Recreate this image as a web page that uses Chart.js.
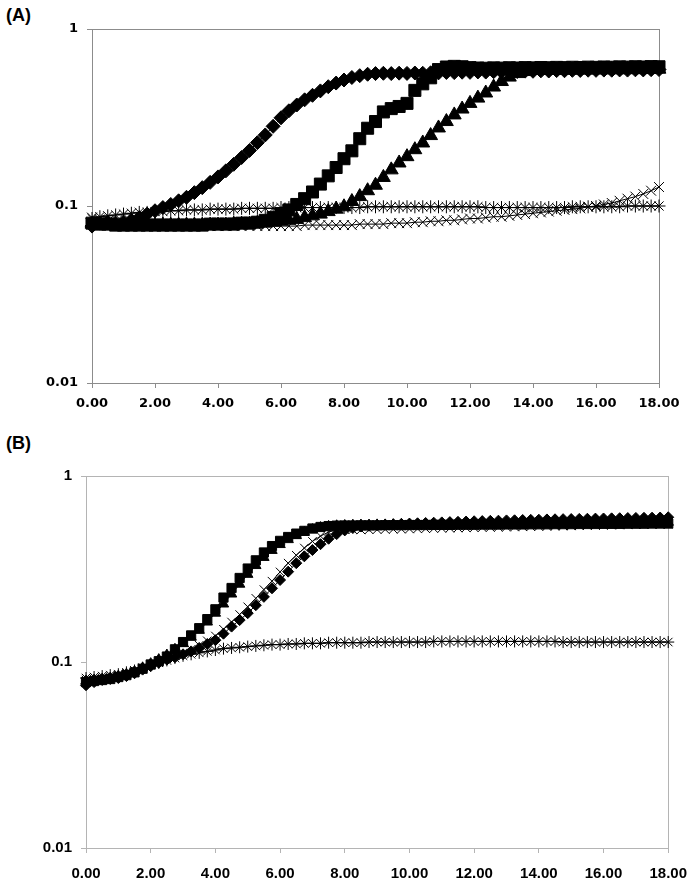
<!DOCTYPE html>
<html lang="en">
<head>
<meta charset="utf-8"/>
<title>Growth curves (A) and (B)</title>
<script src="https://cdn.jsdelivr.net/npm/chart.js@4.4.3/dist/chart.umd.min.js"></script>
<style>
  body { margin: 0; background: #fff; width: 699px; height: 885px; position: relative; overflow: hidden; }
  .panel-label { position: absolute; left: 6px; font: bold 18px "Liberation Sans", Arial, sans-serif; line-height: 20px; color: #000; }
  .wrap { position: absolute; left: 0; width: 699px; }
</style>
</head>
<body>
<div class="panel-label" style="top: 5px;">(A)</div>
<div class="wrap" style="top: 0;"><canvas id="chartA" width="699" height="420"></canvas></div>
<div class="panel-label" style="top: 433px;">(B)</div>
<div class="wrap" style="top: 440px;"><canvas id="chartB" width="699" height="445"></canvas></div>
<script>
  // sampling times (h), every 15 min
  const times = [
    0.00, 0.25, 0.50, 0.75, 1.00, 1.25, 1.50, 1.75, 2.00, 2.25, 2.50, 2.75,
    3.00, 3.25, 3.50, 3.75, 4.00, 4.25, 4.50, 4.75, 5.00, 5.25, 5.50, 5.75,
    6.00, 6.25, 6.50, 6.75, 7.00, 7.25, 7.50, 7.75, 8.00, 8.25, 8.50, 8.75,
    9.00, 9.25, 9.50, 9.75, 10.00, 10.25, 10.50, 10.75, 11.00, 11.25, 11.50, 11.75,
    12.00, 12.25, 12.50, 12.75, 13.00, 13.25, 13.50, 13.75, 14.00, 14.25, 14.50, 14.75,
    15.00, 15.25, 15.50, 15.75, 16.00, 16.25, 16.50, 16.75, 17.00, 17.25, 17.50, 17.75, 18.00
  ];
  const yTicks = [0.01, 0.1, 1];

  // panel A
  const aDiamond = [
    0.077, 0.080, 0.081, 0.080, 0.081, 0.083, 0.086, 0.090, 0.094,
    0.098, 0.102, 0.107, 0.112, 0.119, 0.127, 0.136, 0.146,
    0.158, 0.172, 0.188, 0.206, 0.228, 0.252, 0.282, 0.315,
    0.345, 0.372, 0.398, 0.422, 0.447, 0.472, 0.495, 0.515,
    0.532, 0.545, 0.555, 0.560, 0.562, 0.560, 0.563, 0.561,
    0.564, 0.562, 0.566, 0.565, 0.568, 0.567, 0.570, 0.569,
    0.572, 0.571, 0.574, 0.573, 0.576, 0.575, 0.578, 0.577,
    0.580, 0.579, 0.582, 0.581, 0.584, 0.583, 0.585, 0.584,
    0.586, 0.585, 0.587, 0.586, 0.588, 0.587, 0.589, 0.590
  ];
  const aSquare = [
    0.080, 0.079, 0.079, 0.078, 0.078, 0.078, 0.078, 0.078, 0.078,
    0.078, 0.078, 0.078, 0.078, 0.078, 0.078, 0.079, 0.079,
    0.079, 0.079, 0.080, 0.080, 0.081, 0.083, 0.086, 0.090,
    0.095, 0.102, 0.110, 0.120, 0.133, 0.148, 0.165, 0.185,
    0.205, 0.240, 0.275, 0.300, 0.340, 0.355, 0.365, 0.380,
    0.450, 0.490, 0.530, 0.590, 0.610, 0.615, 0.612, 0.605,
    0.602, 0.600, 0.603, 0.601, 0.604, 0.602, 0.605, 0.603,
    0.606, 0.604, 0.607, 0.605, 0.608, 0.606, 0.609, 0.607,
    0.610, 0.608, 0.611, 0.609, 0.612, 0.610, 0.613, 0.612
  ];
  const aTriangle = [
    0.079, 0.078, 0.078, 0.078, 0.078, 0.078, 0.078, 0.078, 0.078,
    0.078, 0.078, 0.078, 0.078, 0.078, 0.078, 0.078, 0.078,
    0.078, 0.079, 0.079, 0.079, 0.080, 0.080, 0.081, 0.082,
    0.083, 0.084, 0.086, 0.088, 0.090, 0.093, 0.096, 0.099,
    0.106, 0.113, 0.122, 0.131, 0.145, 0.160, 0.175, 0.190,
    0.208, 0.227, 0.250, 0.276, 0.300, 0.327, 0.353, 0.380,
    0.407, 0.435, 0.470, 0.505, 0.535, 0.560, 0.575, 0.583,
    0.583, 0.586, 0.584, 0.587, 0.585, 0.588, 0.586, 0.589,
    0.587, 0.590, 0.588, 0.591, 0.589, 0.592, 0.590, 0.593
  ];
  const aCross = [
    0.086, 0.084, 0.082, 0.080, 0.079, 0.078, 0.078, 0.077, 0.077,
    0.077, 0.077, 0.077, 0.077, 0.077, 0.077, 0.077, 0.077,
    0.077, 0.077, 0.077, 0.077, 0.077, 0.077, 0.077, 0.077,
    0.077, 0.077, 0.078, 0.078, 0.078, 0.078, 0.078, 0.078,
    0.078, 0.079, 0.079, 0.079, 0.079, 0.080, 0.080, 0.080,
    0.081, 0.081, 0.082, 0.082, 0.083, 0.083, 0.084, 0.085,
    0.085, 0.086, 0.087, 0.087, 0.088, 0.089, 0.090, 0.091,
    0.092, 0.093, 0.094, 0.095, 0.096, 0.097, 0.099, 0.100,
    0.102, 0.104, 0.107, 0.110, 0.113, 0.117, 0.122, 0.128
  ];
  const aStar = [
    0.085, 0.087, 0.088, 0.089, 0.090, 0.091, 0.092, 0.092, 0.093,
    0.093, 0.094, 0.094, 0.095, 0.095, 0.095, 0.096, 0.096,
    0.096, 0.096, 0.097, 0.097, 0.097, 0.097, 0.097, 0.098,
    0.098, 0.098, 0.098, 0.098, 0.098, 0.098, 0.098, 0.098,
    0.098, 0.098, 0.099, 0.099, 0.099, 0.099, 0.099, 0.099,
    0.099, 0.099, 0.099, 0.099, 0.099, 0.099, 0.099, 0.099,
    0.099, 0.098, 0.098, 0.098, 0.098, 0.098, 0.098, 0.098,
    0.098, 0.098, 0.098, 0.098, 0.099, 0.099, 0.099, 0.099,
    0.099, 0.099, 0.099, 0.100, 0.100, 0.100, 0.100, 0.100
  ];

  // panel B
  const bDiamond = [
    0.075, 0.078, 0.080, 0.081, 0.082, 0.084, 0.087, 0.091, 0.095,
    0.099, 0.103, 0.106, 0.110, 0.114, 0.119, 0.125, 0.131,
    0.142, 0.155, 0.168, 0.183, 0.202, 0.224, 0.249, 0.276,
    0.306, 0.340, 0.370, 0.400, 0.430, 0.460, 0.487, 0.510,
    0.525, 0.535, 0.540, 0.545, 0.548, 0.550, 0.553, 0.555,
    0.557, 0.559, 0.561, 0.563, 0.565, 0.567, 0.569, 0.571,
    0.572, 0.574, 0.575, 0.577, 0.578, 0.580, 0.581, 0.582,
    0.584, 0.585, 0.586, 0.587, 0.588, 0.589, 0.590, 0.591,
    0.592, 0.593, 0.594, 0.595, 0.596, 0.597, 0.598, 0.600
  ];
  const bSquare = [
    0.078, 0.079, 0.080, 0.081, 0.083, 0.085, 0.088, 0.092, 0.097,
    0.101, 0.107, 0.117, 0.128, 0.139, 0.152, 0.170, 0.192,
    0.222, 0.250, 0.283, 0.318, 0.352, 0.388, 0.420, 0.448,
    0.470, 0.490, 0.507, 0.522, 0.532, 0.538, 0.541, 0.542,
    0.542, 0.543, 0.543, 0.543, 0.544, 0.544, 0.544, 0.545,
    0.545, 0.545, 0.546, 0.546, 0.546, 0.547, 0.547, 0.547,
    0.548, 0.548, 0.548, 0.549, 0.549, 0.549, 0.550, 0.550,
    0.550, 0.551, 0.551, 0.551, 0.552, 0.552, 0.552, 0.553,
    0.553, 0.553, 0.554, 0.554, 0.554, 0.555, 0.555, 0.555
  ];
  const bTriangle = [
    0.079, 0.080, 0.081, 0.082, 0.084, 0.086, 0.089, 0.093, 0.098,
    0.103, 0.109, 0.117, 0.126, 0.136, 0.148, 0.164, 0.183,
    0.205, 0.232, 0.262, 0.296, 0.330, 0.365, 0.398, 0.428,
    0.455, 0.478, 0.498, 0.515, 0.528, 0.536, 0.540, 0.542,
    0.544, 0.545, 0.545, 0.546, 0.546, 0.547, 0.547, 0.548,
    0.548, 0.549, 0.549, 0.550, 0.550, 0.551, 0.551, 0.552,
    0.552, 0.553, 0.553, 0.554, 0.554, 0.555, 0.555, 0.556,
    0.556, 0.557, 0.557, 0.558, 0.558, 0.559, 0.559, 0.560,
    0.560, 0.561, 0.561, 0.562, 0.562, 0.563, 0.563, 0.564
  ];
  const bCross = [
    0.080, 0.081, 0.082, 0.083, 0.085, 0.087, 0.090, 0.093, 0.097,
    0.100, 0.104, 0.108, 0.112, 0.117, 0.123, 0.130, 0.138,
    0.150, 0.164, 0.180, 0.198, 0.220, 0.245, 0.272, 0.305,
    0.340, 0.375, 0.410, 0.445, 0.475, 0.500, 0.512, 0.515,
    0.514, 0.513, 0.514, 0.515, 0.516, 0.517, 0.518, 0.519,
    0.520, 0.521, 0.522, 0.523, 0.524, 0.525, 0.526, 0.527,
    0.528, 0.529, 0.530, 0.531, 0.532, 0.533, 0.534, 0.535,
    0.536, 0.537, 0.538, 0.539, 0.540, 0.541, 0.542, 0.543,
    0.544, 0.545, 0.546, 0.547, 0.548, 0.549, 0.550, 0.551
  ];
  const bStar = [
    0.082, 0.083, 0.084, 0.085, 0.086, 0.088, 0.090, 0.093, 0.096,
    0.099, 0.102, 0.105, 0.108, 0.110, 0.112, 0.114, 0.116,
    0.118, 0.119, 0.120, 0.121, 0.122, 0.123, 0.124, 0.124,
    0.125, 0.125, 0.126, 0.126, 0.126, 0.127, 0.127, 0.127,
    0.127, 0.127, 0.128, 0.128, 0.128, 0.128, 0.128, 0.128,
    0.128, 0.128, 0.129, 0.129, 0.129, 0.129, 0.129, 0.129,
    0.129, 0.129, 0.129, 0.129, 0.129, 0.129, 0.129, 0.129,
    0.129, 0.129, 0.128, 0.128, 0.128, 0.128, 0.128, 0.128,
    0.128, 0.128, 0.128, 0.128, 0.128, 0.128, 0.128, 0.128
  ];

  const pts = (vals) => vals.map((v, i) => ({ x: times[i], y: v }));

  // gray box around the plot area (Excel style)
  const plotBox = {
    id: 'plotBox',
    beforeDatasetsDraw(chart, args, opts) {
      const a = chart.chartArea, ctx = chart.ctx;
      ctx.save();
      ctx.strokeStyle = opts.color;
      ctx.lineWidth = 1;
      ctx.strokeRect(Math.round(a.left) + 0.5, Math.round(a.top) + 0.5,
        Math.round(a.right - a.left), Math.round(a.bottom - a.top));
      ctx.restore();
    }
  };

  function series(vals, style, radius, filled, order) {
    return {
      data: pts(vals),
      showLine: true,
      borderColor: '#000',
      borderWidth: 1,
      pointStyle: style,
      pointRadius: radius,
      pointBackgroundColor: filled ? '#000' : 'rgba(0,0,0,0)',
      pointBorderColor: '#000',
      pointBorderWidth: 1,
      clip: false,
      order: order,
    };
  }

  function makeChart(id, datasets, o) {
    return new Chart(document.getElementById(id), {
      type: 'scatter',
      data: { datasets: datasets },
      plugins: [plotBox],
      options: {
        responsive: false,
        animation: false,
        layout: { padding: { top: o.top, right: o.right, left: 0, bottom: 0 } },
        plugins: {
          legend: { display: false },
          tooltip: { enabled: false },
          plotBox: { color: o.boxColor },
        },
        scales: {
          x: {
            type: 'linear', min: 0, max: 18,
            afterFit: (s) => { s.height = o.xHeight; },
            border: { display: false },
            grid: { drawOnChartArea: false, drawTicks: true, tickLength: 5, color: o.boxColor },
            ticks: {
              stepSize: 2, padding: o.xPad, color: '#000', maxRotation: 0,
              font: { family: o.font, size: o.fontSize, weight: 'bold' },
              callback: (v) => Number(v).toFixed(2),
            },
          },
          y: {
            type: 'logarithmic', min: 0.01, max: 1,
            afterFit: (s) => { s.width = o.yWidth; },
            afterBuildTicks: (s) => { s.ticks = yTicks.map((v) => ({ value: v })); },
            border: { display: false },
            grid: { drawOnChartArea: false, drawTicks: true, tickLength: 5, color: o.boxColor },
            ticks: {
              padding: 9, color: '#000',
              font: { family: o.font, size: o.fontSize, weight: 'bold' },
              callback: (v) => String(v),
            },
          },
        },
      },
    });
  }

  makeChart('chartA', [
    series(aDiamond, 'rectRot', 7, true, 5),
    series(aSquare, 'rect', 8.5, true, 4),
    series(aTriangle, 'triangle', 8, true, 3),
    series(aCross, 'crossRot', 7, false, 2),
    series(aStar, 'star', 6.5, false, 1),
  ], { top: 29, right: 40, xHeight: 37, yWidth: 92, xPad: 8, boxColor: '#8c8c8c',
       font: '"DejaVu Sans", sans-serif', fontSize: 13 });

  makeChart('chartB', [
    series(bDiamond, 'rectRot', 5.5, true, 5),
    series(bSquare, 'rect', 6.5, true, 4),
    series(bTriangle, 'triangle', 6, true, 3),
    series(bCross, 'crossRot', 6, false, 2),
    series(bStar, 'star', 6, false, 1),
  ], { top: 36, right: 26, xHeight: 37, yWidth: 86, xPad: 12, boxColor: '#b4b4b4',
       font: '"Liberation Sans", Arial, sans-serif', fontSize: 15 });
</script>
</body>
</html>
